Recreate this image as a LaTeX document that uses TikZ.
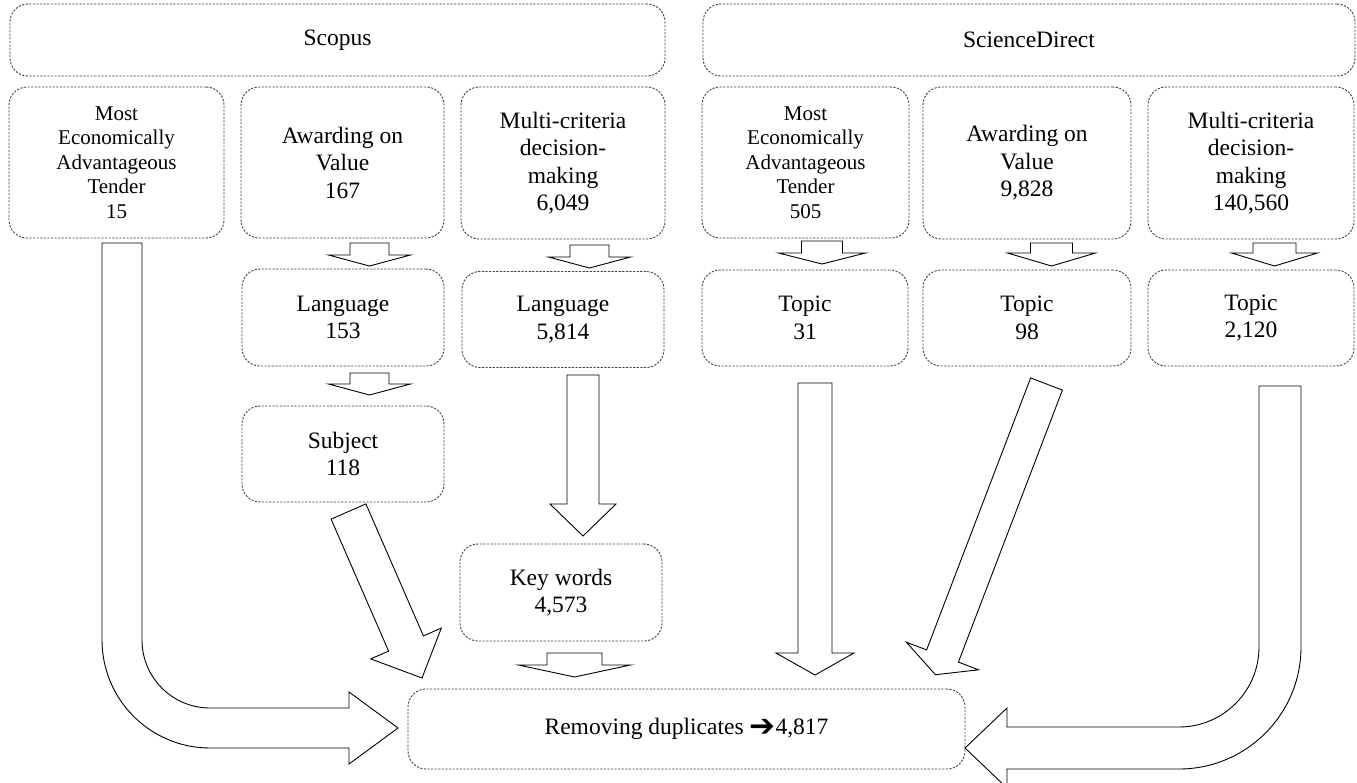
\documentclass[tikz,border=0pt]{standalone}
\usepackage{fontspec}
\setmainfont{Liberation Serif}
\newfontfamily\arrowfont{DejaVu Sans}
\newcommand\downblk[6]{% centre x, top, head base, tip, shaft half width, head half width
  \draw[blk] ({#1-#5},#2) -- ({#1+#5},#2) -- ({#1+#5},#3) -- ({#1+#6},#3) -- (#1,#4) -- ({#1-#6},#3) -- ({#1-#5},#3) -- cycle;}
\begin{document}
\begin{tikzpicture}[x=1pt,y=-1pt,
  box/.style={draw=black!75, dash pattern=on 2.2pt off 1.4pt, line width=0.9pt,
    rounded corners=18pt, inner sep=0pt, align=center,
    font=\fontsize{23.5}{27.5}\selectfont},
  smalltxt/.style={font=\fontsize{21}{24.5}\selectfont},
  blk/.style={draw=black, fill=white, line width=0.9pt, line join=miter}]
\useasboundingbox (0,0) rectangle (1357,782);

% headers
\node[box, minimum width=655pt, minimum height=72pt] (scopus) at (337.5,40) {Scopus};
\node[box, minimum width=652pt, minimum height=72pt] (sd) at (1029,40) {ScienceDirect};

% row 1
\node[box, smalltxt, minimum width=215pt, minimum height=151pt] (s1) at (116.5,162.5) {Most\\Economically\\Advantageous\\Tender\\15};
\node[box, minimum width=203pt, minimum height=151pt] (s2) at (342.5,162.5) {Awarding on\\Value\\167};
\node[box, minimum width=204pt, minimum height=152pt] (s3) at (563,163) {Multi-criteria\\decision-\\making\\6,049};
\node[box, smalltxt, minimum width=207pt, minimum height=151pt] (d1) at (805.5,162.5) {Most\\Economically\\Advantageous\\Tender\\505};
\node[box, minimum width=208pt, minimum height=152pt] (d2) at (1027,163) {Awarding on\\Value\\9,828};
\node[box, minimum width=206pt, minimum height=152pt] (d3) at (1251,163) {Multi-criteria\\decision-\\making\\140,560};

% row 2
\node[box, minimum width=202pt, minimum height=97pt] (s2b) at (343,317.5) {Language\\153};
\node[box, minimum width=202pt, minimum height=96pt] (s3b) at (563,319.5) {Language\\5,814};
\node[box, minimum width=206pt, minimum height=96pt] (d1b) at (805,318) {Topic\\31};
\node[box, minimum width=208pt, minimum height=96pt] (d2b) at (1027,318) {Topic\\98};
\node[box, minimum width=206pt, minimum height=96pt] (d3b) at (1251,318) {Topic\\2,120};

% lower boxes
\node[box, minimum width=202pt, minimum height=96pt] (subj) at (343,454) {Subject\\118};
\node[box, minimum width=202pt, minimum height=97pt] (kw) at (561,592.5) {Key words\\4,573};
\node[box, minimum width=557pt, minimum height=80pt] (rem) at (686.5,729) {Removing duplicates {\arrowfont\fontsize{31}{24}\selectfont\raisebox{-1.5pt}{➔}}4,817};

% short block arrows
\downblk{369.5}{243}{255}{266}{19.5}{41}
\downblk{589.5}{245}{257}{268}{19.5}{41}
\downblk{369.5}{373}{384}{395}{19.5}{41}
\downblk{822}{241}{253}{264}{20.5}{43.5}
\downblk{1051.5}{243}{253}{266}{21}{44}
\downblk{1274.5}{243}{253}{266}{21.5}{43}
\downblk{574.5}{653}{665}{677}{27.5}{56}

% long straight block arrows
\downblk{583}{375}{504}{536}{16}{33}
\downblk{815}{383}{653}{675}{17}{39}

% diagonal block arrows
\draw[blk] (331.1,519.1) -- (388.6,651.1) -- (370.7,658.9) -- (422,678) -- (441.3,628.1) -- (423.4,635.9) -- (365.9,503.9) -- cycle;
\draw[blk] (1030.6,377.9) -- (926.6,649.9) -- (906.4,642.2) -- (935.4,674.7) -- (978.6,669.8) -- (958.4,662.1) -- (1062.4,390.1) -- cycle;

% bent block arrows
\draw[blk] (102,243) -- (142,243) -- (142,640) arc[start angle=180, end angle=90, radius=68]
  -- (349,708) -- (349,692) -- (398,728) -- (349,764) -- (349,748) -- (210,748)
  arc[start angle=90, end angle=180, radius=108] -- cycle;
\draw[blk] (1259,386) -- (1301,386) -- (1301,647) arc[start angle=0, end angle=90, radius=122]
  -- (1007,769) -- (1007,788) -- (965,748) -- (1007,708) -- (1007,727) -- (1179,727)
  arc[start angle=90, end angle=0, radius=80] -- cycle;
\end{tikzpicture}
\end{document}
